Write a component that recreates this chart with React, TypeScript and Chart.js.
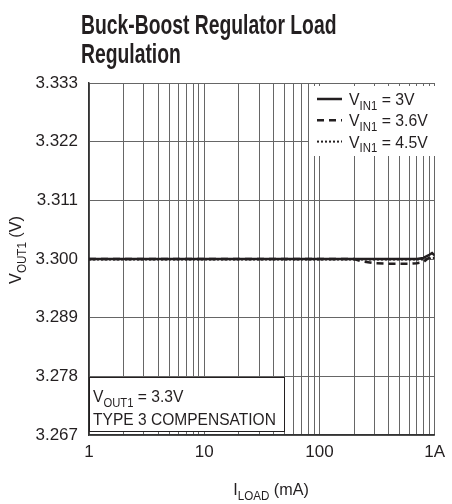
import React, { useEffect, useRef } from "react";
import { Chart, registerables } from "chart.js";

Chart.register(...registerables);

const loadMA = [1, 2, 5, 10, 20, 50, 100, 200, 230, 300, 400, 500, 600, 700, 800, 900, 950, 1000];
const vin3 = [3.3, 3.3, 3.3, 3.3, 3.3, 3.3, 3.3, 3.3, 3.3, 3.3, 3.3, 3.3, 3.3, 3.3, 3.3002, 3.3008, 3.3011, 3.3007];
const vin36 = [3.3, 3.3, 3.3, 3.3, 3.3, 3.3, 3.3, 3.3, 3.2996, 3.2992, 3.2991, 3.2991, 3.2991, 3.2992, 3.2994, 3.3003, 3.3007, 3.3006];
const vin45 = [3.2999, 3.2999, 3.2999, 3.2999, 3.2999, 3.2999, 3.2999, 3.2999, 3.2999, 3.2999, 3.2999, 3.2999, 3.2999, 3.2999, 3.2999, 3.3001, 3.3002, 3.3002];

const yTicks = [3.267, 3.278, 3.289, 3.3, 3.311, 3.322, 3.333];
const xTicks = [1, 2, 3, 4, 5, 6, 7, 8, 9, 10, 20, 30, 40, 50, 60, 70, 80, 90, 100, 200, 300, 400, 500, 600, 700, 800, 900, 1000];
const xLabels: Record<number, string> = { 1: "1", 10: "10", 100: "100", 1000: "1A" };

const legendItems = [
  { main: "V", sub: "IN1", rest: " = 3V", dash: [] as number[], width: 2.5 },
  { main: "V", sub: "IN1", rest: " = 3.6V", dash: [7, 5], width: 2.5 },
  { main: "V", sub: "IN1", rest: " = 4.5V", dash: [2, 2], width: 2 },
];

const FONT = "'Liberation Sans', Arial, sans-serif";
const INK = "#231f20";

function drawRich(
  ctx: CanvasRenderingContext2D,
  parts: { t: string; sub?: boolean }[],
  x: number,
  y: number,
  size: number,
  sx = 1,
  align: "left" | "center" = "left",
  weight = ""
) {
  ctx.save();
  ctx.textBaseline = "alphabetic";
  ctx.textAlign = "left";
  let total = 0;
  for (const p of parts) {
    ctx.font = `${weight} ${p.sub ? size * 0.72 : size}px ${FONT}`;
    total += ctx.measureText(p.t).width;
  }
  ctx.translate(align === "center" ? x - (total * sx) / 2 : x, y);
  ctx.scale(sx, 1);
  let cx = 0;
  for (const p of parts) {
    ctx.font = `${weight} ${p.sub ? size * 0.72 : size}px ${FONT}`;
    ctx.fillText(p.t, cx, p.sub ? size * 0.28 : 0);
    cx += ctx.measureText(p.t).width;
  }
  ctx.restore();
  return total * sx;
}

const overlay = {
  id: "overlay",
  afterDraw(chart: any) {
    const ctx: CanvasRenderingContext2D = chart.ctx;
    const { left } = chart.chartArea;
    ctx.save();
    ctx.fillStyle = INK;
    // Title
    drawRich(ctx, [{ t: "Buck-Boost Regulator Load" }], 81, 34, 28, 0.69, "left", "bold");
    drawRich(ctx, [{ t: "Regulation" }], 81, 63, 28, 0.69, "left", "bold");

    // Legend box
    ctx.fillStyle = "#ffffff";
    ctx.fillRect(309, 86, 127, 70);
    legendItems.forEach((it, i) => {
      const y = 99 + i * 21.3;
      ctx.strokeStyle = INK;
      ctx.lineWidth = it.width;
      ctx.setLineDash(it.dash);
      ctx.beginPath();
      ctx.moveTo(317, y);
      ctx.lineTo(342, y);
      ctx.stroke();
      ctx.setLineDash([]);
      ctx.fillStyle = INK;
      drawRich(ctx, [{ t: it.main }, { t: it.sub, sub: true }, { t: it.rest }], 349, y + 6, 17, 0.93);
    });

    // Annotation box
    ctx.fillStyle = "#ffffff";
    ctx.fillRect(left, 377, 195, 54);
    ctx.strokeStyle = INK;
    ctx.lineWidth = 1;
    ctx.strokeRect(left + 0.5, 377.5, 195, 54);
    ctx.fillStyle = INK;
    drawRich(ctx, [{ t: "V" }, { t: "OUT1", sub: true }, { t: " = 3.3V" }], 93, 402, 17, 0.92);
    drawRich(ctx, [{ t: "TYPE 3 COMPENSATION" }], 93, 425, 17, 0.915);

    // Axis titles
    drawRich(ctx, [{ t: "I" }, { t: "LOAD", sub: true }, { t: " (mA)" }], 271, 495, 17, 0.95, "center");
    ctx.save();
    ctx.translate(21, 250);
    ctx.rotate(-Math.PI / 2);
    drawRich(ctx, [{ t: "V" }, { t: "OUT1", sub: true }, { t: " (V)" }], 0, 0, 17, 0.95, "center");
    ctx.restore();
    ctx.restore();
  },
};

export default function App() {
  const ref = useRef<HTMLCanvasElement>(null);
  useEffect(() => {
    document.body.style.margin = "0";
    const mk = (ys: number[]) => loadMA.map((x, i) => ({ x, y: ys[i] }));
    const chart = new Chart(ref.current!, {
      type: "line",
      data: {
        datasets: [
          { label: "VIN1 = 4.5V", data: mk(vin45), borderColor: INK, borderWidth: 2, borderDash: [2, 2], pointRadius: 0, tension: 0 },
          { label: "VIN1 = 3.6V", data: mk(vin36), borderColor: INK, borderWidth: 2.5, borderDash: [7, 5], pointRadius: 0, tension: 0 },
          { label: "VIN1 = 3V", data: mk(vin3), borderColor: INK, borderWidth: 2.5, pointRadius: 0, tension: 0 },
        ],
      },
      options: {
        animation: false,
        responsive: false,
        maintainAspectRatio: false,
        layout: { padding: { left: 0, top: 83, right: 11, bottom: 0 } },
        plugins: { legend: { display: false }, title: { display: false }, tooltip: { enabled: false } },
        scales: {
          x: {
            type: "logarithmic",
            min: 1,
            max: 1000,
            afterBuildTicks: (s: any) => { s.ticks = xTicks.map((v) => ({ value: v })); },
            afterFit: (s: any) => { s.height = 69; },
            ticks: {
              autoSkip: false,
              maxRotation: 0,
              padding: 7,
              color: INK,
              font: { family: FONT, size: 17 },
              callback: (v: any) => xLabels[Number(v)] ?? "",
            },
            grid: { color: "#666", lineWidth: 1, drawTicks: false },
            border: { color: "#333", width: 1.5 },
          },
          y: {
            type: "linear",
            min: 3.267,
            max: 3.333,
            afterBuildTicks: (s: any) => { s.ticks = yTicks.map((v) => ({ value: v })); },
            afterFit: (s: any) => { s.width = 89; },
            ticks: {
              padding: 11,
              color: INK,
              font: { family: FONT, size: 17 },
              callback: (v: any) => Number(v).toFixed(3),
            },
            grid: { color: "#666", lineWidth: 1, drawTicks: false },
            border: { color: "#333", width: 1.5 },
          },
        },
      },
      plugins: [overlay],
    } as any);
    return () => chart.destroy();
  }, []);
  return <canvas ref={ref} width={452} height={504} style={{ display: "block" }} />;
}
